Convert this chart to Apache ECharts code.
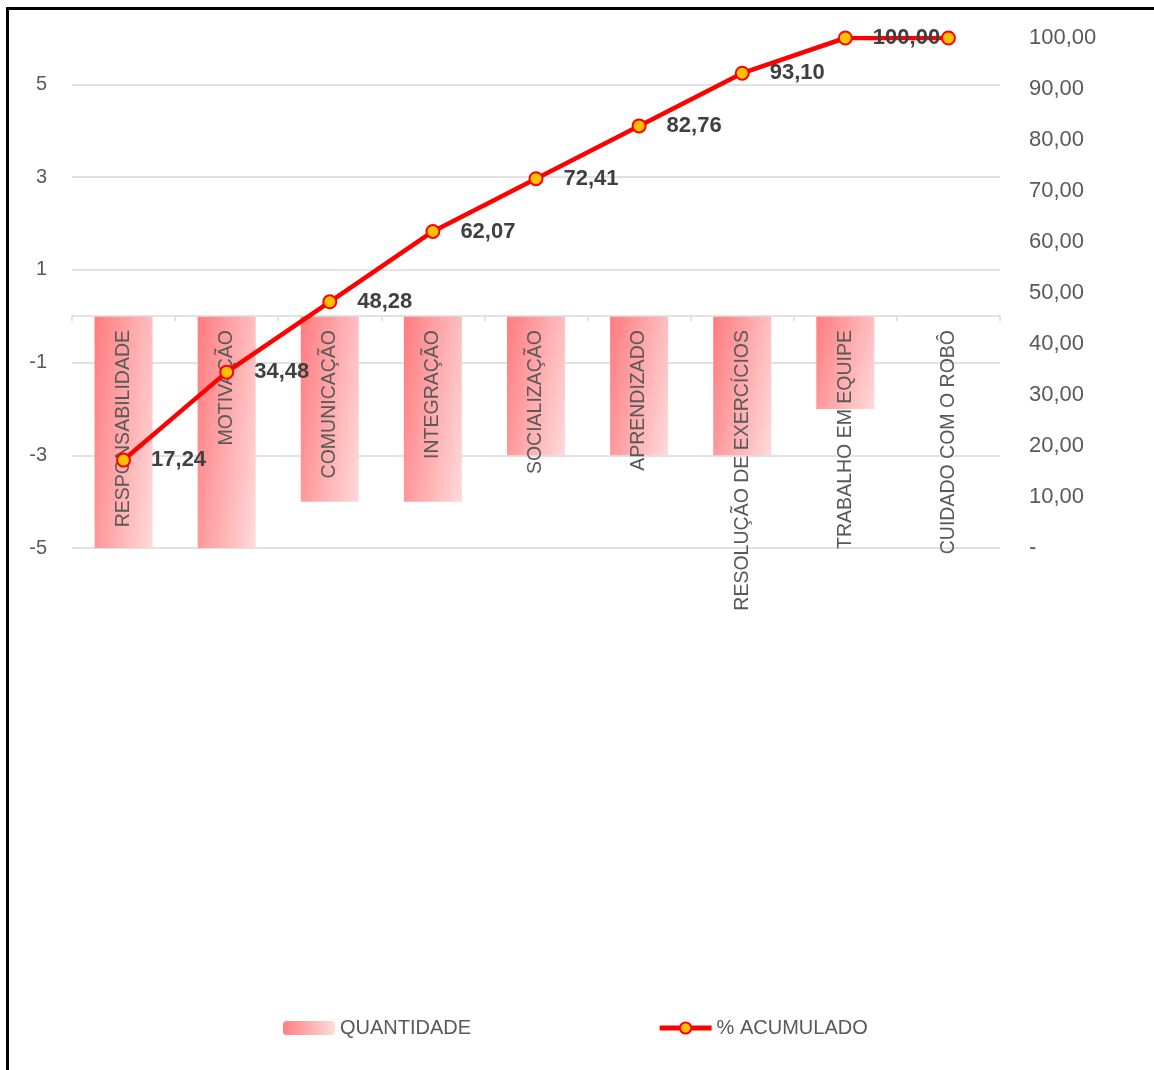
<!DOCTYPE html>
<html>
<head>
<meta charset="utf-8">
<script src="https://cdn.jsdelivr.net/npm/echarts@6/dist/echarts.min.js"></script>
<style>
  html, body { margin: 0; padding: 0; background: #fff; }
  #chart { position: absolute; left: 0; top: 0; width: 1154px; height: 1070px; }
  #frame { position: absolute; left: 6px; top: 7px; width: 1200px; height: 1200px;
           border-left: 3px solid #000; border-top: 3px solid #000; pointer-events: none; }
</style>
</head>
<body>
<div id="chart"></div>
<div id="frame"></div>
<script>
const categories = ['RESPONSABILIDADE', 'MOTIVAÇÃO', 'COMUNICAÇÃO', 'INTEGRAÇÃO', 'SOCIALIZAÇÃO',
  'APRENDIZADO', 'RESOLUÇÃO DE EXERCÍCIOS', 'TRABALHO EM EQUIPE', 'CUIDADO COM O ROBÔ'];
const quantidade = [-5, -5, -4, -4, -3, -3, -3, -2, 0];
const acumulado = [17.24, 34.48, 48.28, 62.07, 72.41, 82.76, 93.10, 100.00, 100.00];
const leftAxisRange = [-5, 6];
const leftAxisStep = 2;
const rightAxisRange = [0, 100];
const rightAxisStep = 10;

const FONT = 'Liberation Sans';
const fmt = v => v.toFixed(2).replace('.', ',');

// Diagonal gradient mostly left->right (as in the original fill), adjusted to each bar's shape
const BAR_W = 58, PX_PER_UNIT = 510 / (leftAxisRange[1] - leftAxisRange[0]);
function barFill(v) {
  const w = BAR_W, h = Math.max(Math.abs(v) * PX_PER_UNIT, 1);
  const A = 0.7 / w, B = 0.3 / h, S = A * A + B * B;
  const x2 = A / (S * w), y2 = B / (S * h);
  return new echarts.graphic.LinearGradient(0, 0, x2, y2, [
    { offset: 0, color: '#ff7b7f' },
    { offset: 1, color: '#ffdada' }
  ]);
}

const chart = echarts.init(document.getElementById('chart'), null, { renderer: 'canvas' });
chart.setOption({
  animation: false,
  textStyle: { fontFamily: FONT },
  grid: { left: 72, right: 154, top: 38, bottom: 522, containLabel: false },
  legend: {
    bottom: 27, left: 278,
    itemWidth: 52, itemHeight: 14, itemGap: 186,
    textStyle: { fontFamily: FONT, fontSize: 20, color: '#595959' },
    lineStyle: { width: 5 },
    data: [
      { name: 'QUANTIDADE', itemStyle: { color: new echarts.graphic.LinearGradient(0, 0, 1, 0, [
        { offset: 0, color: '#ff7f82' }, { offset: 1, color: '#ffdcdc' }]) } },
      '% ACUMULADO'
    ]
  },
  xAxis: {
    type: 'category',
    data: categories,
    z: 5,
    axisLine: { onZero: true, onZeroAxisIndex: 0, lineStyle: { color: '#d9d9d9', width: 1.5 } },
    axisTick: { show: true, alignWithLabel: false, length: 5, lineStyle: { color: '#d9d9d9', width: 1.5 } },
    axisLabel: { rotate: 90, interval: 0, margin: -218, fontFamily: FONT, fontSize: 19.5, color: '#595959' }
  },
  yAxis: [
    {
      type: 'value', min: leftAxisRange[0], max: leftAxisRange[1], interval: leftAxisStep,
      axisLine: { show: false }, axisTick: { show: false },
      axisLabel: { margin: 25, fontFamily: FONT, fontSize: 20, color: '#595959', showMaxLabel: false },
      splitLine: { show: true, showMaxLine: false, lineStyle: { color: '#d9d9d9', width: 1.5 } }
    },
    {
      type: 'value', min: rightAxisRange[0], max: rightAxisRange[1], interval: rightAxisStep,
      position: 'right',
      axisLine: { show: false }, axisTick: { show: false },
      splitLine: { show: false },
      axisLabel: {
        margin: 29, fontFamily: FONT, fontSize: 22, color: '#595959',
        formatter: v => (v === 0 ? '-' : fmt(v))
      }
    }
  ],
  series: [
    {
      name: 'QUANTIDADE', type: 'bar', yAxisIndex: 0, barWidth: BAR_W, z: 2,
      data: quantidade.map(v => ({ value: v, itemStyle: { color: barFill(v) } })),
      itemStyle: { color: '#ff9a9c' }
    },
    {
      name: '% ACUMULADO', type: 'line', yAxisIndex: 1, z: 10,
      data: acumulado,
      symbol: 'circle', symbolSize: 13,
      lineStyle: { color: '#ff0000', width: 4.5 },
      itemStyle: { color: '#ffc000', borderColor: '#ff0000', borderWidth: 2 },
      label: {
        show: true, position: 'right', distance: 20,
        fontFamily: FONT, fontSize: 22, fontWeight: 'bold', color: '#404040',
        formatter: p => (p.dataIndex === acumulado.length - 1 ? '' : fmt(p.value))
      }
    }
  ]
});
</script>
</body>
</html>
